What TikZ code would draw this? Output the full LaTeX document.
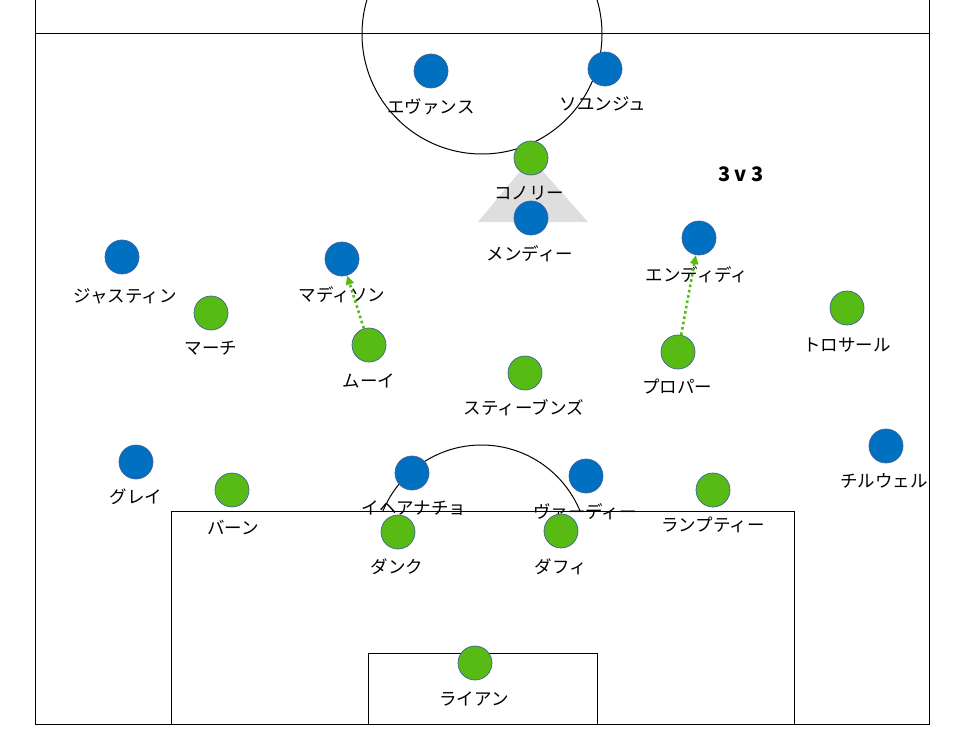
\documentclass[tikz,border=0pt]{standalone}
\usepackage{fontspec}
\newfontfamily\jp{Noto Sans CJK JP}
\usetikzlibrary{arrows.meta}
\definecolor{pblue}{HTML}{0070C0}
\definecolor{pgreen}{HTML}{57BB14}
\definecolor{pedge}{HTML}{3F5F9F}
\tikzset{
  blueman/.style={circle,fill=pblue,draw=pedge,line width=0.7pt,minimum size=34pt,inner sep=0pt},
  greenman/.style={circle,fill=pgreen,draw=pedge,line width=0.7pt,minimum size=34pt,inner sep=0pt},
  name tag/.style={inner sep=0pt,font=\jp\fontsize{17.5}{19}\selectfont},
  run/.style={pgreen,line width=2.6pt,dash pattern=on 2.6pt off 2.8pt,-{Triangle[length=9pt,width=8pt]}},
  pitch/.style={black,line width=1pt}
}
\begin{document}
\begin{tikzpicture}[x=1pt,y=-1pt]
  \useasboundingbox (0,0) rectangle (964,733);
  \clip (0,0) rectangle (964,733);

  % pitch
  \draw[pitch] (35,0) -- (35,724) -- (929,724) -- (929,0);
  \draw[pitch] (35,34) -- (929,34);
  \draw[pitch] (482,34) circle[radius=120];
  \draw[pitch] (171,724) -- (171,511) -- (794,511) -- (794,724);
  \draw[pitch] (368,724) -- (368,653) -- (597,653) -- (597,724);
  \begin{scope}
    \clip (0,0) rectangle (964,511);
    \draw[pitch] (481.5,551.5) circle[radius=106.5];
  \end{scope}

  % shadow of the pivot
  \fill[black!13] (531,158) -- (588,222) -- (478,222) -- cycle;

  \node[font=\jp\bfseries\fontsize{20}{22}\selectfont] (match) at (741,174) {3 v 3};

  % blue side
  \node[blueman] (evans) at (431,71) {};
  \node[name tag] (evansT) at (431,107) {エヴァンス};
  \node[blueman] (soyuncu) at (605,69) {};
  \node[name tag] (soyuncuT) at (603,104) {ソユンジュ};
  \node[blueman] (mendy) at (531,218) {};
  \node[name tag] (mendyT) at (530,254) {メンディー};
  \node[blueman] (ndidi) at (699,238) {};
  \node[name tag] (ndidiT) at (697,275) {エンディディ};
  \node[blueman] (justin) at (122,257) {};
  \node[name tag] (justinT) at (125,296) {ジャスティン};
  \node[blueman] (maddison) at (342,259) {};
  \node[name tag] (maddisonT) at (342,295) {マディソン};
  \node[blueman] (chilwell) at (886,446) {};
  \node[name tag] (chilwellT) at (884,481) {チルウェル};
  \node[blueman] (gray) at (136,462) {};
  \node[name tag] (grayT) at (136,497) {グレイ};
  \node[blueman] (iheanacho) at (412,473) {};
  \node[name tag] (iheanachoT) at (414,508) {イヘアナチョ};
  \node[blueman] (vardy) at (586,476) {};
  \node[name tag] (vardyT) at (585,512) {ヴァーディー};

  % green side
  \node[greenman] (connolly) at (531,158) {};
  \node[name tag] (connollyT) at (529,193) {コノリー};
  \node[greenman] (march) at (211,313) {};
  \node[name tag] (marchT) at (211,348) {マーチ};
  \node[greenman] (mooy) at (369,345) {};
  \node[name tag] (mooyT) at (369,381) {ムーイ};
  \node[greenman] (stephens) at (525,373) {};
  \node[name tag] (stephensT) at (524,408) {スティーブンズ};
  \node[greenman] (propper) at (678,352) {};
  \node[name tag] (propperT) at (677,387) {プロパー};
  \node[greenman] (trossard) at (847,308) {};
  \node[name tag] (trossardT) at (847,345) {トロサール};
  \node[greenman] (burn) at (232,490) {};
  \node[name tag] (burnT) at (233,527) {バーン};
  \node[greenman] (lamptey) at (713,490) {};
  \node[name tag] (lampteyT) at (713,525) {ランプティー};
  \node[greenman] (dunk) at (398,532) {};
  \node[name tag] (dunkT) at (397,567) {ダンク};
  \node[greenman] (duffy) at (561,531) {};
  \node[name tag] (duffyT) at (561,567) {ダフィ};
  \node[greenman] (ryan) at (475,663) {};
  \node[name tag] (ryanT) at (474,699) {ライアン};

  % pressing runs
  \draw[run] (mooy) -- (maddison);
  \draw[run] (propper) -- (ndidi);
\end{tikzpicture}
\end{document}
